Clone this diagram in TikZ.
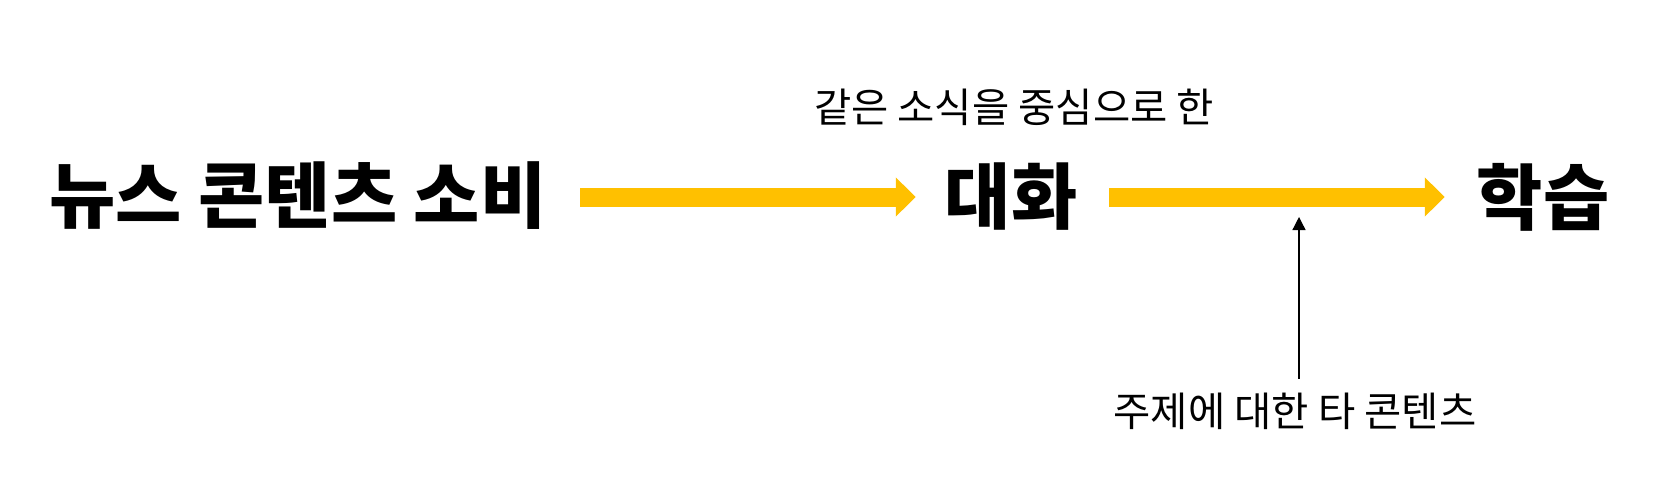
\documentclass[tikz,border=0pt]{standalone}
\usepackage{fontspec}
\usetikzlibrary{arrows.meta}
\newfontfamily\krreg{Noto Sans CJK KR}
\newfontfamily\krblack{Noto Sans CJK KR Black}
\definecolor{ygold}{HTML}{FFC000}
\tikzset{
  bigword/.style={inner sep=0pt, outer sep=0pt, font=\krblack\fontsize{72}{76}\selectfont},
  smallword/.style={inner sep=0pt, outer sep=0pt, font=\krreg\fontsize{40.5}{44}\selectfont},
  yarrow/.style={draw=ygold, line width=19pt, -{Triangle[length=20pt,width=38pt]}},
  thinarrow/.style={draw=black, line width=1.3pt, -{Triangle[length=13pt,width=13pt]}}
}
\begin{document}
\begin{tikzpicture}[x=1pt,y=-1pt]
\useasboundingbox (0,0) rectangle (1678,490);
\node[bigword] (src) at (298,196) {뉴스 콘텐츠 소비};
\node[bigword] (mid) at (1011,197) {대화};
\node[bigword] (dst) at (1543,197) {학습};
\node[smallword] (top) at (1014,107) {같은 소식을 중심으로 한};
\node[smallword] (bot) at (1295,411) {주제에 대한 타 콘텐츠};
\coordinate (hit) at (1299,206);
\draw[yarrow] ([xshift=34pt]src.east |- 0,197) -- ([xshift=-29pt]mid.west |- 0,197);
\draw[yarrow] ([xshift=32pt]mid.east |- 0,197) -- ([xshift=-32pt]dst.west |- 0,197);
\draw[thinarrow, shorten >=11pt] (bot.north -| hit) ++(0,-14) -- (hit);
\end{tikzpicture}
\end{document}
